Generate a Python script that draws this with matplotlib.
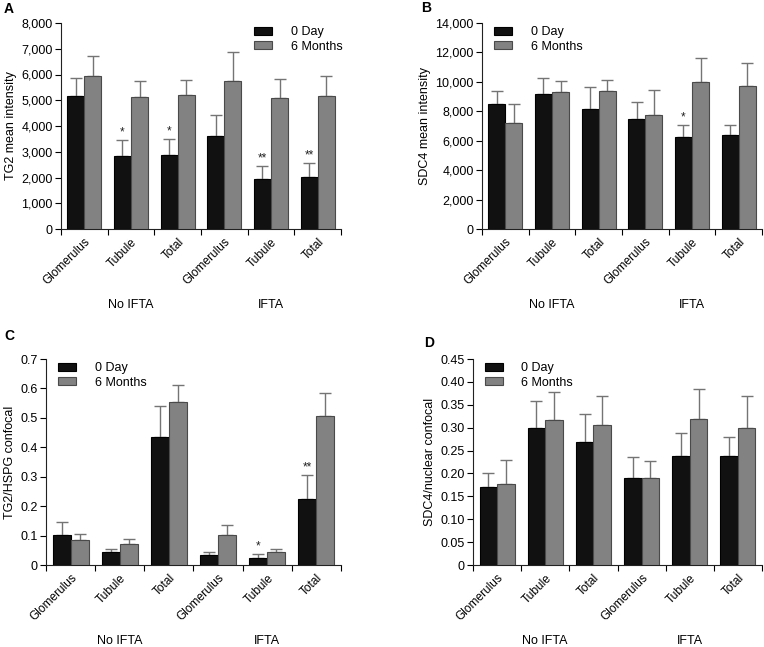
import numpy as np
import matplotlib
matplotlib.use('Agg')
import matplotlib.pyplot as plt
from matplotlib.ticker import FuncFormatter

plt.rcParams['font.family'] = ['Liberation Sans', 'DejaVu Sans']

categories = ['Glomerulus', 'Tubule', 'Total', 'Glomerulus', 'Tubule', 'Total']
groups = ['No IFTA', 'IFTA']
series = ['0 Day', '6 Months']

# panel A: TG2 mean intensity
tg2_day0 = [5150, 2820, 2880, 3600, 1930, 2020]
tg2_day0_err = [700, 630, 620, 830, 520, 550]
tg2_m6 = [5930, 5110, 5190, 5750, 5070, 5170]
tg2_m6_err = [770, 640, 600, 1120, 770, 770]
tg2_stars = ['', '*', '*', '', '**', '**']

# panel B: SDC4 mean intensity
sdc4_day0 = [8500, 9150, 8150, 7480, 6270, 6360]
sdc4_day0_err = [880, 1080, 1470, 1120, 780, 740]
sdc4_m6 = [7230, 9280, 9370, 7750, 10000, 9700]
sdc4_m6_err = [1270, 770, 740, 1730, 1600, 1570]
sdc4_stars = ['', '', '', '', '*', '']

# panel C: TG2/HSPG confocal
hspg_day0 = [0.103, 0.045, 0.436, 0.033, 0.024, 0.223]
hspg_day0_err = [0.043, 0.009, 0.104, 0.012, 0.013, 0.082]
hspg_m6 = [0.084, 0.071, 0.555, 0.102, 0.044, 0.506]
hspg_m6_err = [0.021, 0.016, 0.056, 0.034, 0.010, 0.079]
hspg_stars = ['', '', '', '', '*', '**']

# panel D: SDC4/nuclear confocal
nuc_day0 = [0.170, 0.299, 0.269, 0.189, 0.239, 0.238]
nuc_day0_err = [0.030, 0.060, 0.060, 0.048, 0.050, 0.042]
nuc_m6 = [0.178, 0.317, 0.306, 0.189, 0.318, 0.299]
nuc_m6_err = [0.052, 0.061, 0.064, 0.039, 0.066, 0.070]
nuc_stars = ['', '', '', '', '', '']

W, H = 764, 647
fig = plt.figure(figsize=(W/100, H/100), dpi=100)

def box(l, r, t, b):
    return [l/W, (H-b)/H, (r-l)/W, (b-t)/H]

fs = 9
bw = 0.365
black = '#111111'
grey = '#828282'

def panel(rect, letter, d0, e0, m6, e6, stars, ylim, yticks, fmt, ylabel, leg_x, letter_xy):
    ax = fig.add_axes(box(*rect))
    x = np.arange(len(categories))
    ax.bar(x - bw/2, d0, bw, color=black, edgecolor='#000000', linewidth=0.8, label=series[0], zorder=3)
    ax.bar(x + bw/2, m6, bw, color=grey, edgecolor='#4a4a4a', linewidth=0.8, label=series[1], zorder=3)
    ax.errorbar(x - bw/2, d0, yerr=[np.zeros(len(d0)), e0], fmt='none', ecolor='#747474',
                elinewidth=1.0, capsize=4.5, capthick=1.0, zorder=2)
    ax.errorbar(x + bw/2, m6, yerr=[np.zeros(len(m6)), e6], fmt='none', ecolor='#747474',
                elinewidth=1.0, capsize=4.5, capthick=1.0, zorder=2)
    for i, s in enumerate(stars):
        if s:
            ax.text(x[i] - bw/2, d0[i] + e0[i] + ylim[1]*0.008, s, ha='center', va='bottom',
                    fontsize=fs - 0.5, color='#222222')
    ax.set_xlim(-0.5, len(categories) - 0.5)
    ax.set_ylim(*ylim)
    ax.set_yticks(yticks)
    ax.yaxis.set_major_formatter(FuncFormatter(fmt))
    ax.set_xticks(x)
    ax.set_xticklabels(categories, rotation=45, ha='right', rotation_mode='anchor', fontsize=fs - 0.4)
    ax.set_xticks(np.arange(-0.5, len(categories)), minor=True)
    ax.tick_params(axis='x', which='major', length=0, pad=5)
    ax.tick_params(axis='x', which='minor', length=4, width=0.8, direction='out')
    ax.tick_params(axis='y', length=4, width=0.8, labelsize=fs, pad=2)
    for sp in ['top', 'right']:
        ax.spines[sp].set_visible(False)
    for sp in ['left', 'bottom']:
        ax.spines[sp].set_linewidth(0.8)
        ax.spines[sp].set_color('#222222')
    ax.set_ylabel(ylabel, fontsize=fs, labelpad=3)
    ax.legend(loc='upper left', bbox_to_anchor=(leg_x, 0.985), frameon=False, fontsize=fs,
              handlelength=1.45, handleheight=0.6, handletextpad=1.5, labelspacing=0.2,
              borderaxespad=0, borderpad=0)
    for gi, g in enumerate(groups):
        ax.text(1 + 3*gi, -0.37, g, transform=ax.get_xaxis_transform(), ha='center', va='center',
                fontsize=fs)
    fig.text(letter_xy[0]/W, 1 - letter_xy[1]/H, letter, fontsize=fs + 1, fontweight='bold',
             ha='left', va='center')
    return ax

comma = lambda v, p: f'{int(v):,}'
one_dec = lambda v, p: '0' if v == 0 else f'{v:.1f}'
two_dec = lambda v, p: '0' if v == 0 else f'{v:.2f}'

panel((61, 341, 23, 229), 'A', tg2_day0, tg2_day0_err, tg2_m6, tg2_m6_err, tg2_stars,
      (0, 8000), np.arange(0, 8001, 1000), comma, 'TG2 mean intensity', 0.69, (4, 9))
panel((482, 762, 23, 229), 'B', sdc4_day0, sdc4_day0_err, sdc4_m6, sdc4_m6_err, sdc4_stars,
      (0, 14000), np.arange(0, 14001, 2000), comma, 'SDC4 mean intensity', 0.043, (421, 8))
panel((46, 341, 359, 565), 'C', hspg_day0, hspg_day0_err, hspg_m6, hspg_m6_err, hspg_stars,
      (0, 0.7), np.arange(0, 0.71, 0.1), one_dec, 'TG2/HSPG confocal', 0.04, (4, 336))
panel((473, 762, 359, 565), 'D', nuc_day0, nuc_day0_err, nuc_m6, nuc_m6_err, nuc_stars,
      (0, 0.45), np.arange(0, 0.451, 0.05), two_dec, 'SDC4/nuclear confocal', 0.04, (424, 343))

fig.savefig('out.png', dpi=100)
